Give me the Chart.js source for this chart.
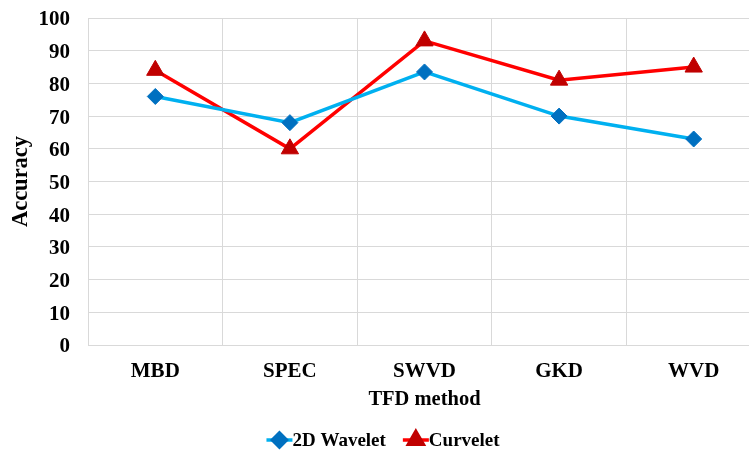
<!DOCTYPE html>
<html>
<head>
<meta charset="utf-8">
<script src="https://cdn.jsdelivr.net/npm/chart.js@4.4.0/dist/chart.umd.min.js"></script>
<style>
  html, body { margin: 0; padding: 0; background: #fff; overflow: hidden; }
  #wrap { width: 772px; height: 450px; }
</style>
</head>
<body>
<div id="wrap"><canvas id="c" width="772" height="450" style="width:772px;height:450px"></canvas></div>
<script>
const categories = ['MBD', 'SPEC', 'SWVD', 'GKD', 'WVD'];
const wavelet2D = [76, 68, 83.5, 70, 63];
const curvelet = [84, 60, 93, 81, 85];
const yTicks = [0, 10, 20, 30, 40, 50, 60, 70, 80, 90, 100];
const seriesNames = ['2D Wavelet', 'Curvelet'];

const FONT = '"Liberation Serif", "Times New Roman", serif';
const GRID = '#d9d9d9';

const legendPlugin = {
  id: 'excelLegend',
  afterDraw(chart) {
    const ctx = chart.ctx;
    ctx.save();
    ctx.font = 'bold 19px ' + FONT;
    ctx.textBaseline = 'middle';
    ctx.textAlign = 'left';
    const lineW = 26, gap = 17;
    const items = chart.data.datasets.map(ds => ({ ds, w: ctx.measureText(ds.label).width }));
    let total = 0;
    items.forEach((it, i) => { total += lineW + it.w + (i ? gap : 0); });
    let x = 383 - total / 2;
    const y = 440;
    items.forEach((it, i) => {
      if (i) x += gap;
      ctx.strokeStyle = it.ds.borderColor;
      ctx.lineWidth = 3.5;
      ctx.beginPath();
      ctx.moveTo(x, y);
      ctx.lineTo(x + lineW, y);
      ctx.stroke();
      ctx.fillStyle = it.ds.pointBackgroundColor;
      ctx.strokeStyle = it.ds.pointBorderColor;
      Chart.helpers.drawPoint(ctx, {
        pointStyle: it.ds.pointStyle,
        radius: it.ds.pointStyle === 'triangle' ? 8.5 : 7,
        rotation: 0,
        borderWidth: 1
      }, x + lineW / 2, y);
      ctx.fillStyle = '#000';
      ctx.fillText(it.ds.label, x + lineW, y + 1);
      x += lineW + it.w;
    });
    ctx.restore();
  }
};

new Chart(document.getElementById('c'), {
  type: 'line',
  data: {
    labels: categories,
    datasets: [
      {
        label: seriesNames[0],
        data: wavelet2D,
        borderColor: '#00B0F0',
        borderWidth: 3.5,
        pointStyle: 'rectRot',
        pointRadius: 8,
        pointHoverRadius: 8,
        pointBackgroundColor: '#0070C0',
        pointBorderColor: '#0070C0',
        pointBorderWidth: 1,
        tension: 0
      },
      {
        label: seriesNames[1],
        data: curvelet,
        borderColor: '#FF0000',
        borderWidth: 3.5,
        pointStyle: 'triangle',
        pointRadius: 10,
        pointHoverRadius: 10,
        pointBackgroundColor: '#C00000',
        pointBorderColor: '#C00000',
        pointBorderWidth: 1,
        tension: 0
      }
    ]
  },
  options: {
    responsive: false,
    animation: false,
    devicePixelRatio: 1,
    layout: { padding: { left: 0, right: 0, top: 18, bottom: 38 } },
    plugins: { legend: { display: false }, tooltip: { enabled: false } },
    scales: {
      x: {
        offset: true,
        grid: { color: GRID, lineWidth: 1, offset: true, drawTicks: false },
        border: { color: GRID, width: 1 },
        ticks: { color: '#000', font: { family: FONT, size: 21, weight: 'bold' }, padding: 14, maxRotation: 0 },
        title: { display: true, text: 'TFD method', color: '#000', font: { family: FONT, size: 20.5, weight: 'bold' }, padding: { top: 0, bottom: 0 } },
        afterFit(scale) { scale.height = 67; }
      },
      y: {
        min: 0,
        max: 100,
        afterBuildTicks(scale) { scale.ticks = yTicks.map(v => ({ value: v })); },
        grid: { color: GRID, lineWidth: 1, drawTicks: false },
        border: { color: GRID, width: 1 },
        ticks: { color: '#000', font: { family: FONT, size: 21, weight: 'bold' }, padding: 18, labelOffset: 2 },
        title: { display: true, text: 'Accuracy', color: '#000', font: { family: FONT, size: 22.5, weight: 'bold' }, padding: { top: 8, bottom: 0 } },
        afterFit(scale) { scale.width = 88; scale.paddingTop = 0; scale.paddingBottom = 0; }
      }
    }
  },
  plugins: [legendPlugin]
});
</script>
</body>
</html>
